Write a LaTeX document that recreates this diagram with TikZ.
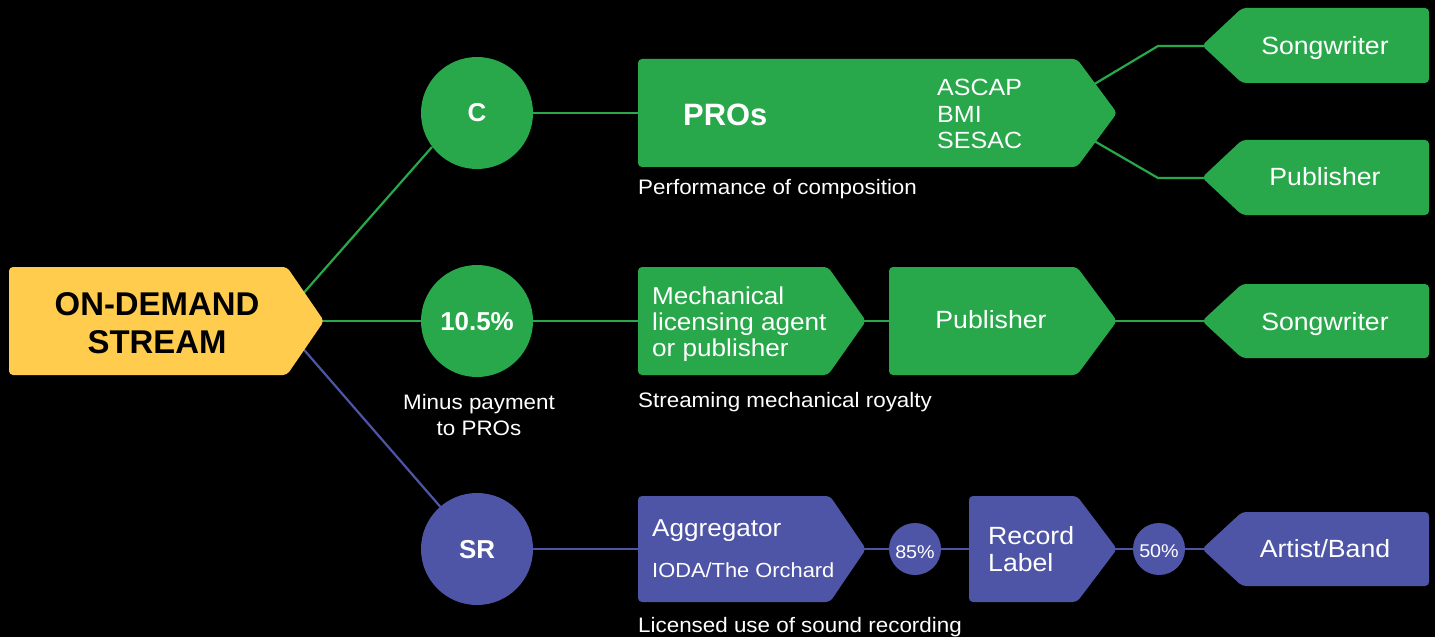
\documentclass[tikz,border=0pt]{standalone}
\usepackage{fontspec}
\setmainfont{Liberation Sans}[FakeStretch=1.07]
\newfontfamily\hfont{Liberation Sans}
\definecolor{grn}{HTML}{28A84A}
\definecolor{ylw}{HTML}{FFCC4D}
\definecolor{prp}{HTML}{4F55A6}
\newcommand\rpent[6]{\fill[#1, rounded corners=4bp] (#2,#3) -- (#5,#3) -- (#6,{(#3+#4)/2}) -- (#5,#4) -- (#2,#4) -- cycle;}
\newcommand\lpent[6]{\fill[#1, rounded corners=4bp] (#2,{(#5+#6)/2}) -- (#3,#5) -- (#4,#5) -- (#4,#6) -- (#3,#6) -- cycle;}
\tikzset{
  gline/.style={draw=grn, line width=2.2bp},
  pline/.style={draw=prp, line width=2.2bp},
  bigc/.style={circle, minimum size=112bp, inner sep=0},
  bigt/.style={text=white, inner sep=0, anchor=base, font=\hfont\bfseries\fontsize{26}{28}\selectfont},
  smallc/.style={circle, fill=prp, minimum size=52bp, inner sep=0},
  smallt/.style={text=white, inner sep=0, anchor=base, font=\fontsize{18.5}{20}\selectfont},
  wtxt/.style={text=white, inner sep=0},
  boxt/.style={text=white, inner sep=0, anchor=base, font=\fontsize{25}{28}\selectfont},
  captxt/.style={text=white, inner sep=0, anchor=base west, font=\fontsize{21}{26}\selectfont},
}
\begin{document}
\begin{tikzpicture}[x=1bp, y=-1bp]
\useasboundingbox (0,0) rectangle (1435,637);
\fill[black] (0,0) rectangle (1435,637);

% connector anchor coordinates
\coordinate (cC) at (477,113);
\coordinate (cCe) at (432,147);
\coordinate (cM) at (477,321);
\coordinate (cSR) at (477,549);
\coordinate (c85) at (915,549);
\coordinate (c50) at (1159,549);
\coordinate (ods) at (279,321);
\coordinate (prosL) at (640,113);
\coordinate (prosO) at (1046,113);
\coordinate (k1) at (1158,46);
\coordinate (k2) at (1158,178);
\coordinate (sw1) at (1205,46);
\coordinate (pub1) at (1205,178);
\coordinate (mechL) at (640,321);
\coordinate (mechR) at (862,321);
\coordinate (pubL) at (892,321);
\coordinate (pubR) at (1113,321);
\coordinate (sw2) at (1205,321);
\coordinate (aggL) at (640,549);
\coordinate (aggR) at (862,549);
\coordinate (recL) at (972,549);
\coordinate (recR) at (1113,549);
\coordinate (art) at (1205,549);

% connectors (behind shapes)
\draw[gline] (ods) -- (cCe);
\draw[gline] (ods) -- (cM);
\draw[pline] (ods) -- (cSR);
\draw[gline] (cC) -- (prosL);
\draw[gline] (prosO) -- (k1) -- (sw1);
\draw[gline] (prosO) -- (k2) -- (pub1);
\draw[gline] (cM) -- (mechL);
\draw[gline] (mechR) -- (pubL);
\draw[gline] (pubR) -- (sw2);
\draw[pline] (cSR) -- (aggL);
\draw[pline] (aggR) -- (c85) -- (recL);
\draw[pline] (recR) -- (c50) -- (art);

% circles
\node[bigc, fill=grn] (C) at (cC) {};
\node[bigc, fill=grn] (M) at (cM) {};
\node[bigc, fill=prp] (SR) at (cSR) {};
\node[smallc] (p85) at (c85) {};
\node[smallc] (p50) at (c50) {};
\node[bigt] (Ct) at (477,122) {C};
\node[bigt] (Mt) at (477,330) {10.5\%};
\node[bigt] (SRt) at (477,558) {SR};
\node[smallt] (p85t) at (915,558) {85\%};
\node[smallt] (p50t) at (1159,557) {50\%};

% shapes
\rpent{ylw}{9}{267}{375}{287}{324}
\rpent{grn}{638}{59}{167}{1077}{1117}
\rpent{grn}{638}{267}{375}{828}{866}
\rpent{grn}{889}{267}{375}{1077}{1117}
\rpent{prp}{638}{496}{602}{830}{866}
\rpent{prp}{969}{496}{602}{1077}{1117}
\lpent{grn}{1202}{1242}{1429}{8}{83}
\lpent{grn}{1202}{1242}{1429}{140}{215}
\lpent{grn}{1202}{1242}{1429}{284}{358}
\lpent{prp}{1202}{1242}{1429}{512}{586}

% texts
\node[inner sep=0, align=center, font=\hfont\bfseries\fontsize{33}{38}\selectfont] (odsT) at (157,323) {ON-DEMAND\\STREAM};
\node[wtxt, anchor=base west, font=\hfont\bfseries\fontsize{31}{34}\selectfont] (prosT) at (683,126) {PROs};
\node[wtxt, anchor=west, align=left, font=\fontsize{23.5}{26.5}\selectfont] (orgs) at (937,114) {ASCAP\\BMI\\SESAC};
\node[captxt] (perf) at (638,195) {Performance of composition};
\node[wtxt, anchor=west, align=left, font=\fontsize{24.5}{26}\selectfont] (mechT) at (652,324) {Mechanical\\licensing agent\\or publisher};
\node[boxt] (pubT) at (991,328) {Publisher};
\node[boxt] (sw1T) at (1325,55) {Songwriter};
\node[boxt] (pub1T) at (1325,186) {Publisher};
\node[boxt] (sw2T) at (1325,330) {Songwriter};
\node[captxt] (strm) at (638,407) {Streaming mechanical royalty};
\node[wtxt, align=center, font=\fontsize{21}{26}\selectfont] (minus) at (479,415) {Minus payment\\to PROs};
\node[wtxt, anchor=base west, font=\fontsize{24.5}{28}\selectfont] (aggT) at (652,536) {Aggregator};
\node[wtxt, anchor=base west, font=\fontsize{20.5}{24}\selectfont] (ioda) at (652,577) {IODA/The Orchard};
\node[wtxt, anchor=west, align=left, font=\fontsize{25}{27}\selectfont] (recT) at (988,549) {Record\\Label};
\node[boxt] (artT) at (1325,557) {Artist/Band};
\node[captxt] (lic) at (638,632) {Licensed use of sound recording};
\end{tikzpicture}
\end{document}
